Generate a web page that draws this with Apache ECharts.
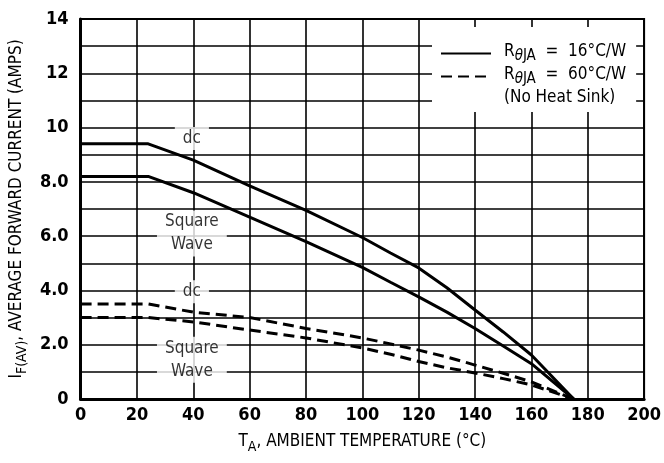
<!DOCTYPE html>
<html>
<head>
<meta charset="utf-8">
<script src="https://cdn.jsdelivr.net/npm/echarts@6/dist/echarts.min.js"></script>
<style>
  html, body { margin: 0; padding: 0; background: #fff; }
  #chart { width: 664px; height: 463px; }
</style>
</head>
<body>
<div id="chart"></div>
<script>
// temperatures (°C) where the curves were read
const temps = [0, 24, 40, 60, 80, 100, 110, 120, 130, 140, 150, 160, 175];
// RθJA = 16°C/W
const dc16 = [9.4, 9.4, 8.8, 7.85, 6.95, 5.95, 5.38, 4.83, 4.1, 3.28, 2.47, 1.62, 0];
const sq16 = [8.2, 8.2, 7.6, 6.7, 5.8, 4.85, 4.3, 3.76, 3.2, 2.6, 1.95, 1.3, 0];
// RθJA = 60°C/W (no heat sink)
const dc60 = [3.5, 3.5, 3.2, 3.0, 2.6, 2.25, 2.03, 1.8, 1.55, 1.25, 0.95, 0.63, 0];
const sq60 = [3.0, 3.0, 2.84, 2.54, 2.25, 1.88, 1.65, 1.38, 1.15, 0.96, 0.75, 0.52, 0];

const yTickLabels = { 0: '0', 2: '2.0', 4: '4.0', 6: '6.0', 8: '8.0', 10: '10', 12: '12', 14: '14' };

// curve notes
const noteX = [39.5, 39.5, 39.5, 39.5];
const noteY = [9.6, 6.1, 3.95, 1.45];
const noteText = ['dc', 'Square\nWave', 'dc', 'Square\nWave'];

const NAME16 = 'R16';
const NAME60 = 'R60';
const NAMENHS = 'NHS';

const FONT = '"Liberation Sans Narrow", "DejaVu Sans Condensed", sans-serif';

function pairs(xs, ys) {
    return xs.map(function (x, i) { return [x, ys[i]]; });
}

function curve(name, ys, dashed) {
    return {
        name: name,
        type: 'line',
        data: pairs(temps, ys),
        symbol: 'none',
        z: 3,
        itemStyle: { color: '#000' },
        lineStyle: { color: '#000', width: 3, type: dashed ? [11, 6] : 'solid' }
    };
}

const legendText = {
    R16: '{a|R}{t|θ}{b|JA}{a|  =  16°C/W}',
    R60: '{a|R}{t|θ}{b|JA}{a|  =  60°C/W}',
    NHS: '{a|(No Heat Sink)}'
};

const chart = echarts.init(document.getElementById('chart'), null, { renderer: 'canvas' });

const options = {
    backgroundColor: '#fff',
    animation: false,
    textStyle: { fontFamily: FONT, color: '#000' },
    grid: {
        left: 80, top: 19, right: 13, bottom: 64,
        show: true, borderColor: '#000', borderWidth: 2
    },
    legend: {
        data: [
            { name: NAME16 },
            { name: NAME60 },
            { name: NAMENHS, icon: 'none' }
        ],
        orient: 'vertical',
        left: 432,
        top: 27,
        padding: [16, 10, 6, 8],
        backgroundColor: '#fff',
        itemWidth: 50,
        itemHeight: 14,
        itemGap: 2,
        selectedMode: false,
        itemStyle: { opacity: 0 },
        formatter: function (name) { return legendText[name]; },
        textStyle: {
            padding: [0, 0, 0, 8],
            rich: {
                a: { fontFamily: FONT, fontSize: 17, color: '#000', verticalAlign: 'bottom', padding: [0, 0, 4, 0] },
                t: { fontFamily: FONT, fontSize: 15, color: '#000', verticalAlign: 'bottom', fontStyle: 'italic' },
                b: { fontFamily: FONT, fontSize: 15, color: '#000', verticalAlign: 'bottom' }
            }
        }
    },
    xAxis: {
        type: 'value',
        min: 0, max: 200, interval: 20,
        name: '{a|T}{b|A}{a|, AMBIENT TEMPERATURE (°C)}',
        nameLocation: 'middle',
        nameGap: 34,
        nameTextStyle: {
            rich: {
                a: { fontFamily: FONT, fontSize: 17, color: '#000', verticalAlign: 'bottom', padding: [0, 0, 4, 0] },
                b: { fontFamily: FONT, fontSize: 14, color: '#000', verticalAlign: 'bottom' }
            }
        },
        axisLine: { show: true, lineStyle: { color: '#000', width: 3 } },
        axisTick: { show: false },
        axisLabel: { margin: 7, fontSize: 18, fontWeight: 'bold', color: '#000', fontFamily: FONT },
        splitLine: { show: true, lineStyle: { color: '#000', width: 1.6 } }
    },
    yAxis: {
        type: 'value',
        min: 0, max: 14, interval: 1,
        name: '{a|I}{b|F(AV)}{a|, AVERAGE FORWARD CURRENT (AMPS)}',
        nameLocation: 'middle',
        nameGap: 44,
        nameTextStyle: {
            rich: {
                a: { fontFamily: FONT, fontSize: 17, color: '#000', verticalAlign: 'bottom', padding: [0, 0, 4, 0] },
                b: { fontFamily: FONT, fontSize: 14, color: '#000', verticalAlign: 'bottom' }
            }
        },
        axisLine: { show: true, lineStyle: { color: '#000', width: 3 } },
        axisTick: { show: false },
        axisLabel: {
            margin: 12, fontSize: 18, fontWeight: 'bold', color: '#000', fontFamily: FONT,
            formatter: function (v) { return yTickLabels[v] !== undefined ? yTickLabels[v] : ''; }
        },
        splitLine: { show: true, lineStyle: { color: '#000', width: 1.6 } }
    },
    series: [
        curve(NAME16, dc16, false),
        curve(NAME16, sq16, false),
        curve(NAME60, dc60, true),
        curve(NAME60, sq60, true),
        { name: NAMENHS, type: 'line', data: [], symbol: 'none', lineStyle: { opacity: 0 } },
        {
            name: 'notes',
            type: 'scatter',
            symbolSize: 0,
            z: 4,
            data: noteX.map(function (x, i) { return { value: [x, noteY[i]], text: noteText[i] }; }),
            label: {
                show: true,
                position: 'inside',
                formatter: function (p) { return p.data.text; },
                fontFamily: FONT,
                fontSize: 17,
                color: '#000',
                lineHeight: 23,
                align: 'center',
                backgroundColor: '#fff',
                padding: [0, 8, 0, 8]
            }
        }
    ]
};
chart.setOption(options);
</script>
</body>
</html>
